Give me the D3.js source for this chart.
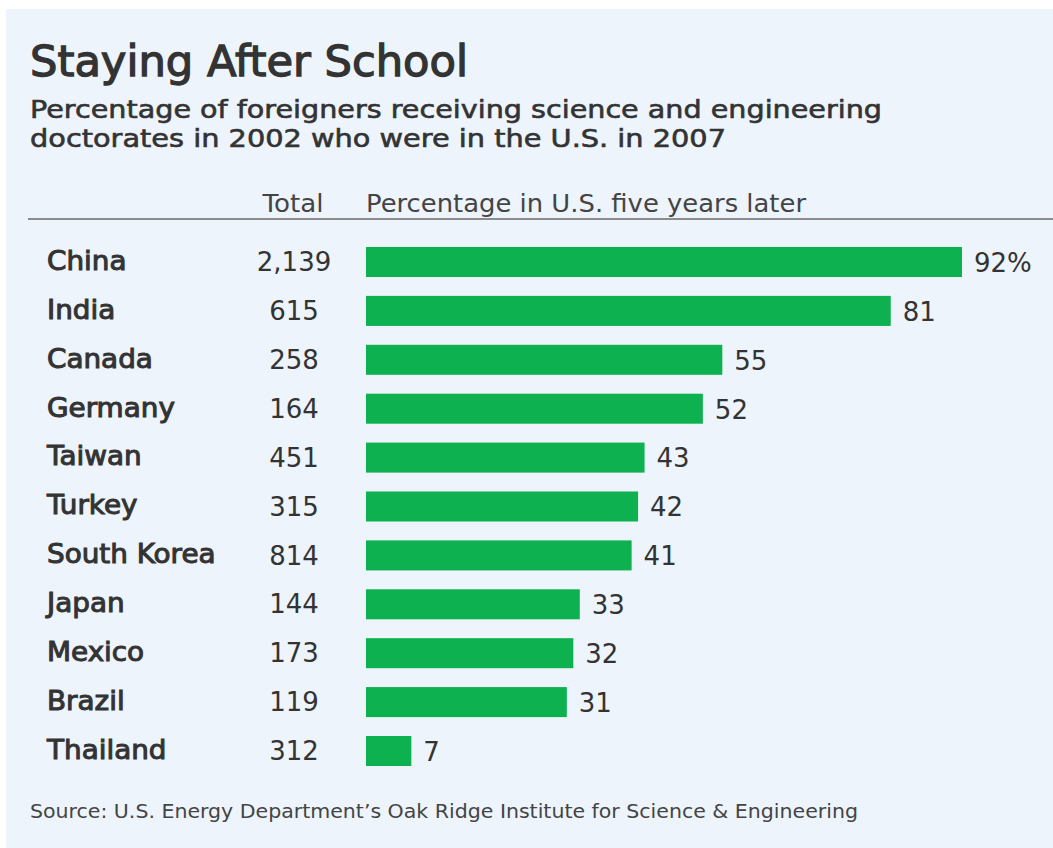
<!DOCTYPE html>
<html>
<head>
<meta charset="utf-8">
<script src="https://cdn.jsdelivr.net/npm/d3@7"></script>
<style>
  html, body { margin: 0; padding: 0; background: #ffffff; }
  svg { display: block; }
</style>
</head>
<body>
<script>
const countries = ["China", "India", "Canada", "Germany", "Taiwan", "Turkey", "South Korea", "Japan", "Mexico", "Brazil", "Thailand"];
const totals = [2139, 615, 258, 164, 451, 315, 814, 144, 173, 119, 312];
const percentages = [92, 81, 55, 52, 43, 42, 41, 33, 32, 31, 7];

const titleText = "Staying After School";
const subtitleLines = ["Percentage of foreigners receiving science and engineering", "doctorates in 2002 who were in the U.S. in 2007"];
const headerTotal = "Total";
const headerPct = "Percentage in U.S. five years later";
const sourceText = "Source: U.S. Energy Department\u2019s Oak Ridge Institute for Science & Engineering";

const W = 1053, H = 848;
const FONT = "'DejaVu Sans', sans-serif";
const TXT = "#333333";

const svg = d3.select("body").append("svg").attr("width", W).attr("height", H);

svg.append("rect").attr("x", 6).attr("y", 9).attr("width", W - 6).attr("height", H - 9).attr("fill", "#edf4fc");

function fit(sel, width) {
  const n = sel.node();
  const len = n.getComputedTextLength();
  if (len > 0) sel.attr("textLength", width).attr("lengthAdjust", "spacingAndGlyphs");
  return sel;
}

// Title
fit(svg.append("text").attr("x", 30).attr("y", 76)
  .attr("font-family", FONT).attr("font-size", 43).attr("fill", TXT)
  .attr("stroke", TXT).attr("stroke-width", 1.3)
  .text(titleText), 438);

// Subtitle
const subY = [118, 147];
const subW = [852, 696];
subtitleLines.forEach((s, i) => {
  fit(svg.append("text").attr("x", 30).attr("y", subY[i])
    .attr("font-family", FONT).attr("font-size", 25).attr("fill", TXT)
    .attr("stroke", TXT).attr("stroke-width", 0.6)
    .text(s), subW[i]);
});

// Scales
const x = d3.scaleLinear().domain([0, 92]).range([366, 962]);
const y = d3.scaleBand().domain(countries).range([237.55, 775.45]).paddingInner(0.386).paddingOuter(0.193);

// Headers
fit(svg.append("text").attr("x", 293).attr("y", 212).attr("text-anchor", "middle")
  .attr("font-family", FONT).attr("font-size", 25).attr("fill", "#444")
  .text(headerTotal), 61);
fit(svg.append("text").attr("x", 366).attr("y", 212)
  .attr("font-family", FONT).attr("font-size", 25).attr("fill", "#444")
  .text(headerPct), 440);

svg.append("line").attr("x1", 28).attr("x2", W).attr("y1", 219).attr("y2", 219)
  .attr("stroke", "#8c8c8c").attr("stroke-width", 2);

const rows = svg.append("g").selectAll("g").data(countries).join("g");

rows.append("text").attr("x", 47).attr("y", d => y(d) + y.bandwidth() / 2)
  .attr("dy", "0.3em")
  .attr("font-family", FONT).attr("font-size", 26).attr("fill", TXT)
  .attr("stroke", TXT).attr("stroke-width", 1.0)
  .text(d => d)
  .each(function(d) { fit(d3.select(this), this.getComputedTextLength() * 1.07); });

const fmt = d3.format(",");
rows.append("text").attr("x", 294).attr("y", d => y(d) + y.bandwidth() / 2)
  .attr("dy", "0.35em").attr("text-anchor", "middle")
  .attr("font-family", FONT).attr("font-size", 26).attr("fill", TXT)
  .text((d, i) => fmt(totals[i]));

rows.append("rect").attr("x", x(0)).attr("y", d => y(d))
  .attr("width", (d, i) => x(percentages[i]) - x(0)).attr("height", y.bandwidth())
  .attr("fill", "#0db14f");

rows.append("text").attr("x", (d, i) => x(percentages[i]) + 12).attr("y", d => y(d) + y.bandwidth() / 2)
  .attr("dy", "0.38em")
  .attr("font-family", FONT).attr("font-size", 26).attr("fill", TXT)
  .text((d, i) => percentages[i] + (i === 0 ? "%" : ""));

// Source
fit(svg.append("text").attr("x", 30).attr("y", 818)
  .attr("font-family", "'DejaVu Sans Condensed', 'Liberation Sans Narrow', " + FONT).attr("font-size", 19).attr("fill", "#444")
  .text(sourceText), 828);
</script>
</body>
</html>
